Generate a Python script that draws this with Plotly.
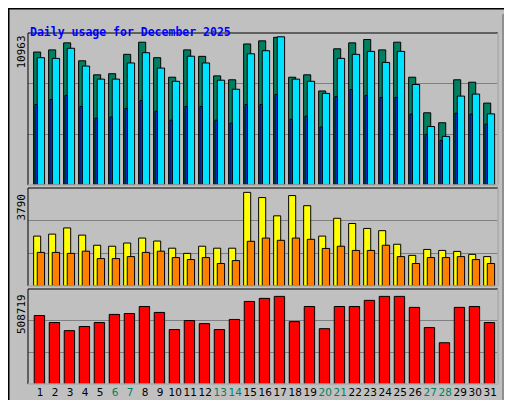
import plotly.graph_objects as go
import numpy as np

days = list(range(1, 32))
weekend = [6, 7, 13, 14, 20, 21, 27, 28]

# values
hits = [9870, 10030, 10550, 9220, 8180, 8260, 9700, 10600, 9450, 8000,
        10030, 9550, 8100, 7810, 10470, 10700, 10963, 8000, 8180, 6980,
        10110, 10550, 10800, 10030, 10600, 8000, 5360, 4620, 7810, 7630, 6080]
files = [9450, 9400, 10150, 8830, 7860, 7860, 9060, 9820, 8680, 7700,
         9560, 9060, 7780, 7110, 9740, 9970, 11000, 7860, 7700, 6800,
         9400, 9700, 9920, 9100, 9920, 7460, 4340, 3610, 6600, 6750, 5280]
pages = [5980, 6350, 6650, 5830, 4960, 5040, 5680, 6270, 5480, 4810,
         5830, 5830, 4810, 4590, 5980, 5980, 6720, 4880, 5110, 4300,
         6570, 7090, 6650, 6500, 6500, 5260, 3760, 3310, 5330, 5260, 4520]
visits = [2020, 2100, 2350, 2060, 1650, 1610, 1740, 1940, 1820, 1530,
          1320, 1610, 1530, 1530, 3790, 3580, 2840, 3660, 3250, 2020,
          2740, 2530, 2330, 2240, 1690, 1240, 1480, 1440, 1400, 1280, 1190]
sites = [1360, 1360, 1320, 1410, 1110, 1110, 1190, 1360, 1410, 1150,
         1070, 1150, 910, 1030, 1810, 1940, 1850, 1940, 1890, 1520,
         1610, 1440, 1440, 1650, 1190, 910, 1150, 1150, 1190, 1070, 910]
kbytes = [380000, 341000, 296000, 319000, 341000, 386000, 391000, 430000, 397000, 302000,
          352000, 335000, 302000, 358000, 458000, 475000, 486000, 346000, 430000, 307000,
          430000, 430000, 464000, 486000, 486000, 425000, 313000, 229000, 425000, 430000, 341000]

d = np.array(days)
edge = dict(color="black", width=1)
fig = go.Figure()

def bar(x, y, w, color, ax):
    fig.add_trace(go.Bar(x=x, y=y, width=w, marker=dict(color=color, line=edge),
                         xaxis="x" if ax == 1 else "x%d" % ax,
                         yaxis="y" if ax == 1 else "y%d" % ax, showlegend=False))

bar(d, hits, 0.47, "#008060", 1)
bar(d + 0.25, files, 0.49, "#00e0ff", 1)
bar(d - 0.07, pages, 0.15, "#0040ff", 1)
bar(d, visits, 0.47, "#ffff00", 2)
bar(d + 0.25, sites, 0.49, "#ff8000", 2)
bar(d + 0.15, kbytes, 0.69, "#ff0000", 3)

xr = [0.39, 31.72]
top1, top2, top3 = 11283, 3967, 527000
ticklab = ["<span style='color:%s'>%d</span>" % ("#008060" if i in weekend else "black", i)
           for i in days]

def yax(dom, top):
    return dict(domain=dom, range=[0, top], tickvals=[top / 3, 2 * top / 3],
                showticklabels=False, gridcolor="#808080", zeroline=False,
                fixedrange=True, automargin=False)

xdom = [20 / 512, 490 / 512]
fig.update_layout(
    width=512, height=400, margin=dict(l=0, r=0, t=0, b=0, autoexpand=False),
    paper_bgcolor="#c0c0c0", plot_bgcolor="#c0c0c0", barmode="overlay",
    font=dict(family="DejaVu Sans Mono", size=11, color="black"),
    xaxis=dict(domain=xdom, range=xr, showticklabels=False, showgrid=False,
               anchor="y", automargin=False),
    xaxis2=dict(domain=xdom, range=xr, showticklabels=False, showgrid=False,
                anchor="y2", automargin=False),
    xaxis3=dict(domain=xdom, range=xr, tickvals=list(d + 0.2), ticktext=ticklab,
                showgrid=False, ticks="", anchor="y3", tickangle=0, automargin=False,
                tickfont=dict(family="DejaVu Sans", size=10.5)),
    yaxis=yax([0.5575, 0.9375], top1),
    yaxis2=yax([0.305, 0.55], top2),
    yaxis3=yax([0.06, 0.2975], top3),
)

# panel frames and outer bevel
shapes = [dict(type="rect", xref="paper", yref="paper", x0=494 / 512, y0=0.01, x1=0.995,
               y1=0.985, fillcolor="#909090", line=dict(width=0), layer="below"),
          dict(type="rect", xref="paper", yref="paper", x0=0.001, y0=0.001, x1=0.999,
               y1=0.999, line=dict(color="black", width=2))]
for dom in ([0.5575, 0.9375], [0.305, 0.55], [0.06, 0.2975]):
    shapes.append(dict(type="rect", xref="paper", yref="paper", x0=xdom[0], x1=xdom[1],
                       y0=dom[0], y1=dom[1], line=dict(color="black", width=1)))
    shapes.append(dict(type="path", xref="paper", yref="paper",
                       path="M %f %f L %f %f L %f %f" % (xdom[0], dom[0], xdom[1], dom[0],
                                                         xdom[1], dom[1]),
                       line=dict(color="white", width=1)))
fig.update_layout(shapes=shapes)

ann = [
    dict(x=20, y=15, text="<b>Daily usage for December 2025</b>", showarrow=False,
         xanchor="left", font=dict(color="#0000ff", size=11.5)),
    dict(x=13, y=26, text="10963", textangle=-90, yanchor="top", showarrow=False),
    dict(x=13, y=184, text="3790", textangle=-90, yanchor="top", showarrow=False),
    dict(x=13, y=284, text="508719", textangle=-90, yanchor="top", showarrow=False),
    dict(x=501, y=27, text="<span style='color:#00c0e0'>Pages</span> / "
         "<span style='color:#00c0e0'>Files</span> / <span style='color:#008060'>Hits</span>",
         textangle=-90, yanchor="top", showarrow=False),
    dict(x=501, y=197, text="<span style='color:#ff8000'>Sites</span> / "
         "<span style='color:#e0e000'>Visits</span>", textangle=-90, yanchor="top",
         showarrow=False),
    dict(x=501, y=334, text="<span style='color:#ff0000'>KBytes</span>", textangle=-90,
         yanchor="top", showarrow=False),
]
for a in ann:
    a["xref"] = "paper"
    a["yref"] = "paper"
    a["x"] = a["x"] / 512
    a["y"] = 1 - a["y"] / 400
    a.setdefault("xanchor", "center")
fig.update_layout(annotations=ann)

fig.write_html("out.html")
